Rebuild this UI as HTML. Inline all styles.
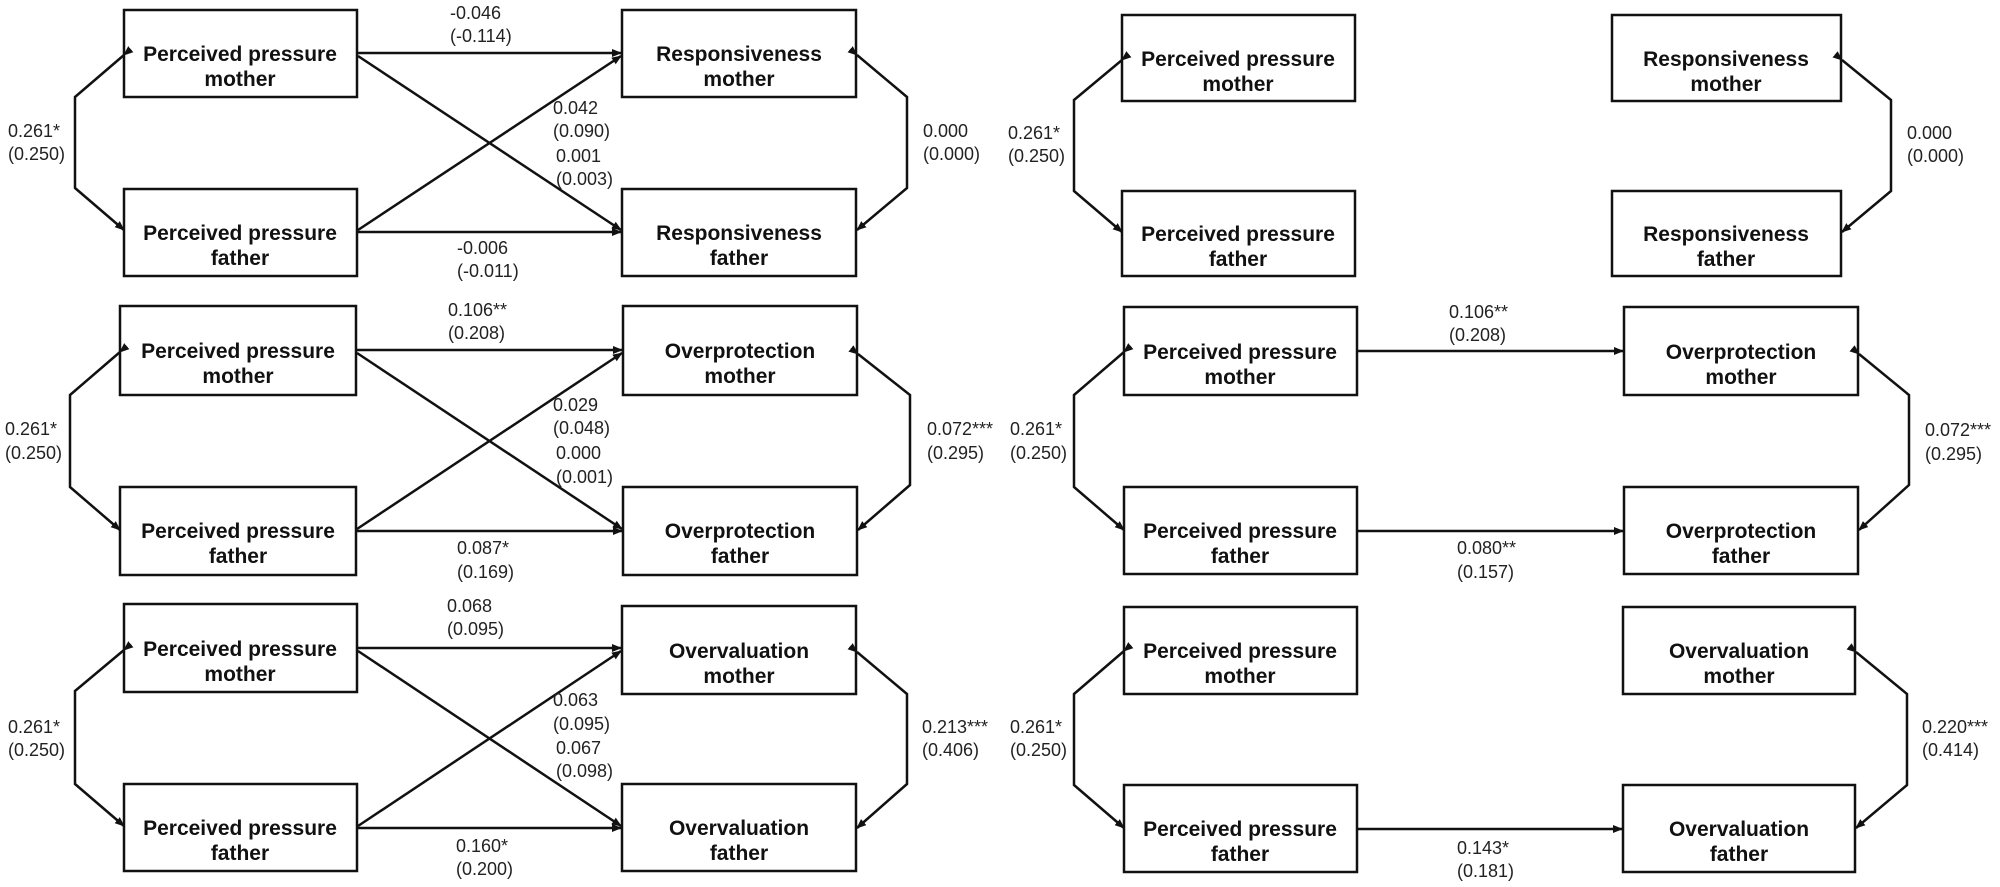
<!DOCTYPE html>
<html><head><meta charset="utf-8"><style>
html,body{margin:0;padding:0;background:#fff;}
svg{display:block;}
.b{fill:#fff;stroke:#111;stroke-width:2.5;}
.l{stroke:#111;stroke-width:2.5;fill:none;}
.t{font-family:"Liberation Sans",sans-serif;font-size:21px;font-weight:bold;fill:#111;text-anchor:middle;}
.n{font-family:"Liberation Sans",sans-serif;font-size:18px;fill:#222;dominant-baseline:central;}
</style></head><body>
<svg width="2000" height="887" viewBox="0 0 2000 887" xmlns="http://www.w3.org/2000/svg">
<defs><marker id="a" markerWidth="10" markerHeight="8" refX="9" refY="4" orient="auto" markerUnits="userSpaceOnUse"><path d="M0,0 L10,4 L0,8 z" fill="#111"/></marker></defs>

<!-- LEFT ROW 1 -->
<rect class="b" x="124" y="10" width="233" height="87"/><text class="t" x="240" y="61">Perceived pressure</text><text class="t" x="240" y="86">mother</text>
<rect class="b" x="124" y="189" width="233" height="87"/><text class="t" x="240" y="240">Perceived pressure</text><text class="t" x="240" y="265">father</text>
<rect class="b" x="622" y="10" width="234" height="87"/><text class="t" x="739" y="61">Responsiveness</text><text class="t" x="739" y="86">mother</text>
<rect class="b" x="622" y="189" width="234" height="87"/><text class="t" x="739" y="240">Responsiveness</text><text class="t" x="739" y="265">father</text>
<path class="l" d="M124,55 L75,97 L75,188 L124,230" marker-start="url(#a)" marker-end="url(#a)"/>
<path class="l" d="M857,55 L907,97 L907,188 L857,230" marker-start="url(#a)" marker-end="url(#a)"/>
<line class="l" x1="358" y1="53" x2="621" y2="53" marker-end="url(#a)"/>
<line class="l" x1="358" y1="232" x2="621" y2="232" marker-end="url(#a)"/>
<line class="l" x1="358" y1="56" x2="621" y2="230" marker-end="url(#a)"/>
<line class="l" x1="358" y1="230" x2="621" y2="56" marker-end="url(#a)"/>
<text class="n" x="8" y="131">0.261*</text><text class="n" x="8" y="154">(0.250)</text>
<text class="n" x="923" y="131">0.000</text><text class="n" x="923" y="154">(0.000)</text>
<text class="n" x="450" y="13">-0.046</text><text class="n" x="450" y="36">(-0.114)</text>
<text class="n" x="553" y="108">0.042</text><text class="n" x="553" y="131">(0.090)</text>
<text class="n" x="556" y="156">0.001</text><text class="n" x="556" y="179">(0.003)</text>
<text class="n" x="457" y="248">-0.006</text><text class="n" x="457" y="271">(-0.011)</text>

<!-- LEFT ROW 2 -->
<rect class="b" x="120" y="306" width="236" height="89"/><text class="t" x="238" y="358">Perceived pressure</text><text class="t" x="238" y="383">mother</text>
<rect class="b" x="120" y="487" width="236" height="88"/><text class="t" x="238" y="538">Perceived pressure</text><text class="t" x="238" y="563">father</text>
<rect class="b" x="623" y="306" width="234" height="89"/><text class="t" x="740" y="358">Overprotection</text><text class="t" x="740" y="383">mother</text>
<rect class="b" x="623" y="487" width="234" height="88"/><text class="t" x="740" y="538">Overprotection</text><text class="t" x="740" y="563">father</text>
<path class="l" d="M120,352 L70,395 L70,487 L120,530" marker-start="url(#a)" marker-end="url(#a)"/>
<path class="l" d="M858,354 L910,395 L910,485 L858,530" marker-start="url(#a)" marker-end="url(#a)"/>
<line class="l" x1="357" y1="350" x2="622" y2="350" marker-end="url(#a)"/>
<line class="l" x1="357" y1="531" x2="622" y2="531" marker-end="url(#a)"/>
<line class="l" x1="357" y1="353" x2="622" y2="529" marker-end="url(#a)"/>
<line class="l" x1="357" y1="529" x2="622" y2="353" marker-end="url(#a)"/>
<text class="n" x="5" y="429">0.261*</text><text class="n" x="5" y="453">(0.250)</text>
<text class="n" x="927" y="429">0.072***</text><text class="n" x="927" y="453">(0.295)</text>
<text class="n" x="448" y="310">0.106**</text><text class="n" x="448" y="333">(0.208)</text>
<text class="n" x="553" y="405">0.029</text><text class="n" x="553" y="428">(0.048)</text>
<text class="n" x="556" y="453">0.000</text><text class="n" x="556" y="477">(0.001)</text>
<text class="n" x="457" y="548">0.087*</text><text class="n" x="457" y="572">(0.169)</text>

<!-- LEFT ROW 3 -->
<rect class="b" x="124" y="604" width="233" height="88"/><text class="t" x="240" y="656">Perceived pressure</text><text class="t" x="240" y="681">mother</text>
<rect class="b" x="124" y="784" width="233" height="87"/><text class="t" x="240" y="835">Perceived pressure</text><text class="t" x="240" y="860">father</text>
<rect class="b" x="622" y="606" width="234" height="88"/><text class="t" x="739" y="658">Overvaluation</text><text class="t" x="739" y="683">mother</text>
<rect class="b" x="622" y="784" width="234" height="87"/><text class="t" x="739" y="835">Overvaluation</text><text class="t" x="739" y="860">father</text>
<path class="l" d="M124,650 L75,691 L75,784 L124,826" marker-start="url(#a)" marker-end="url(#a)"/>
<path class="l" d="M857,652 L907,694 L907,784 L857,828" marker-start="url(#a)" marker-end="url(#a)"/>
<line class="l" x1="358" y1="648" x2="621" y2="648" marker-end="url(#a)"/>
<line class="l" x1="358" y1="828" x2="621" y2="828" marker-end="url(#a)"/>
<line class="l" x1="358" y1="651" x2="621" y2="826" marker-end="url(#a)"/>
<line class="l" x1="358" y1="826" x2="621" y2="651" marker-end="url(#a)"/>
<text class="n" x="8" y="727">0.261*</text><text class="n" x="8" y="750">(0.250)</text>
<text class="n" x="922" y="727">0.213***</text><text class="n" x="922" y="750">(0.406)</text>
<text class="n" x="447" y="606">0.068</text><text class="n" x="447" y="629">(0.095)</text>
<text class="n" x="553" y="700">0.063</text><text class="n" x="553" y="724">(0.095)</text>
<text class="n" x="556" y="748">0.067</text><text class="n" x="556" y="771">(0.098)</text>
<text class="n" x="456" y="846">0.160*</text><text class="n" x="456" y="869">(0.200)</text>

<!-- RIGHT ROW 1 -->
<rect class="b" x="1122" y="15" width="233" height="86"/><text class="t" x="1238" y="66">Perceived pressure</text><text class="t" x="1238" y="91">mother</text>
<rect class="b" x="1122" y="191" width="233" height="85"/><text class="t" x="1238" y="241">Perceived pressure</text><text class="t" x="1238" y="266">father</text>
<rect class="b" x="1612" y="15" width="229" height="86"/><text class="t" x="1726" y="66">Responsiveness</text><text class="t" x="1726" y="91">mother</text>
<rect class="b" x="1612" y="191" width="229" height="85"/><text class="t" x="1726" y="241">Responsiveness</text><text class="t" x="1726" y="266">father</text>
<path class="l" d="M1122,60 L1074,100 L1074,191 L1122,232" marker-start="url(#a)" marker-end="url(#a)"/>
<path class="l" d="M1842,60 L1891,100 L1891,191 L1842,232" marker-start="url(#a)" marker-end="url(#a)"/>
<text class="n" x="1008" y="133">0.261*</text><text class="n" x="1008" y="156">(0.250)</text>
<text class="n" x="1907" y="133">0.000</text><text class="n" x="1907" y="156">(0.000)</text>

<!-- RIGHT ROW 2 -->
<rect class="b" x="1124" y="307" width="233" height="88"/><text class="t" x="1240" y="359">Perceived pressure</text><text class="t" x="1240" y="384">mother</text>
<rect class="b" x="1124" y="487" width="233" height="87"/><text class="t" x="1240" y="538">Perceived pressure</text><text class="t" x="1240" y="563">father</text>
<rect class="b" x="1624" y="307" width="234" height="88"/><text class="t" x="1741" y="359">Overprotection</text><text class="t" x="1741" y="384">mother</text>
<rect class="b" x="1624" y="487" width="234" height="87"/><text class="t" x="1741" y="538">Overprotection</text><text class="t" x="1741" y="563">father</text>
<path class="l" d="M1124,352 L1074,395 L1074,487 L1124,530" marker-start="url(#a)" marker-end="url(#a)"/>
<path class="l" d="M1859,354 L1909,395 L1909,485 L1859,530" marker-start="url(#a)" marker-end="url(#a)"/>
<line class="l" x1="1358" y1="351" x2="1623" y2="351" marker-end="url(#a)"/>
<line class="l" x1="1358" y1="531" x2="1623" y2="531" marker-end="url(#a)"/>
<text class="n" x="1010" y="429">0.261*</text><text class="n" x="1010" y="453">(0.250)</text>
<text class="n" x="1925" y="430">0.072***</text><text class="n" x="1925" y="454">(0.295)</text>
<text class="n" x="1449" y="312">0.106**</text><text class="n" x="1449" y="335">(0.208)</text>
<text class="n" x="1457" y="548">0.080**</text><text class="n" x="1457" y="572">(0.157)</text>

<!-- RIGHT ROW 3 -->
<rect class="b" x="1124" y="607" width="233" height="87"/><text class="t" x="1240" y="658">Perceived pressure</text><text class="t" x="1240" y="683">mother</text>
<rect class="b" x="1124" y="785" width="233" height="87"/><text class="t" x="1240" y="836">Perceived pressure</text><text class="t" x="1240" y="861">father</text>
<rect class="b" x="1623" y="607" width="232" height="87"/><text class="t" x="1739" y="658">Overvaluation</text><text class="t" x="1739" y="683">mother</text>
<rect class="b" x="1623" y="785" width="232" height="87"/><text class="t" x="1739" y="836">Overvaluation</text><text class="t" x="1739" y="861">father</text>
<path class="l" d="M1124,651 L1074,694 L1074,785 L1124,828" marker-start="url(#a)" marker-end="url(#a)"/>
<path class="l" d="M1856,652 L1907,694 L1907,785 L1856,828" marker-start="url(#a)" marker-end="url(#a)"/>
<line class="l" x1="1358" y1="829" x2="1622" y2="829" marker-end="url(#a)"/>
<text class="n" x="1010" y="727">0.261*</text><text class="n" x="1010" y="750">(0.250)</text>
<text class="n" x="1922" y="727">0.220***</text><text class="n" x="1922" y="750">(0.414)</text>
<text class="n" x="1457" y="848">0.143*</text><text class="n" x="1457" y="871">(0.181)</text>
</svg>
</body></html>
